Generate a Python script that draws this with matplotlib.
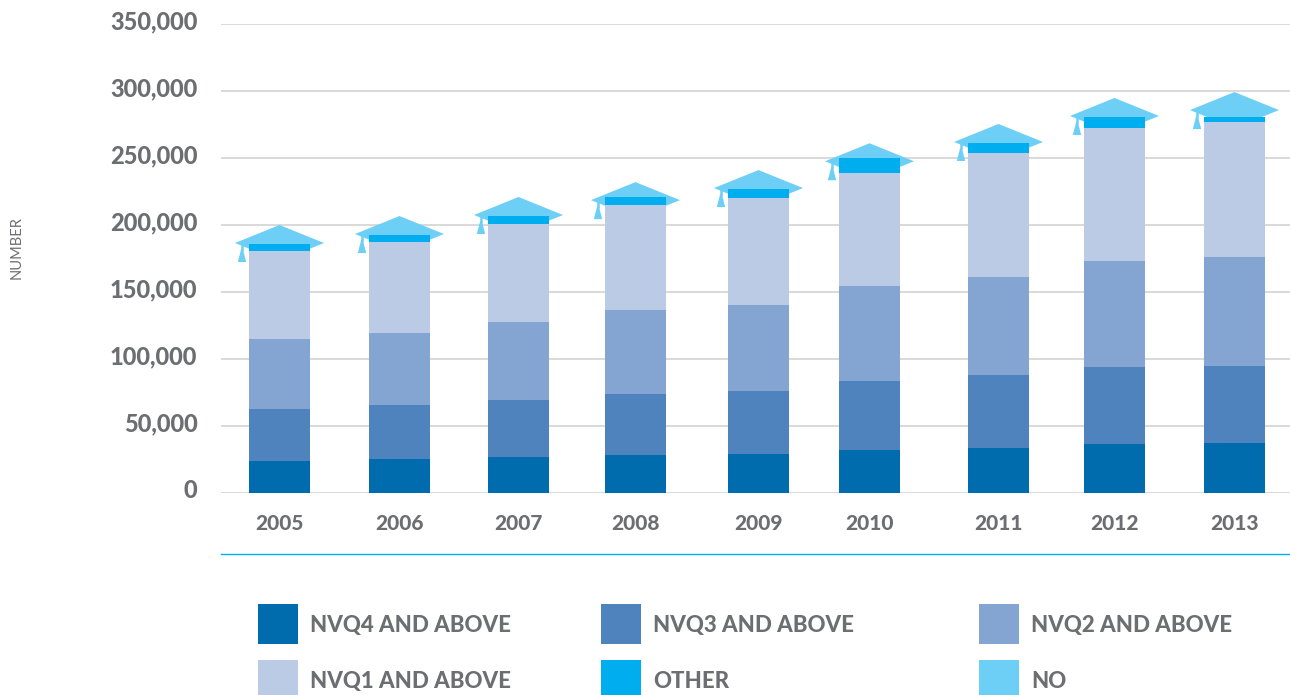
#!/usr/bin/python
import matplotlib
matplotlib.use('Agg')
import matplotlib.pyplot as plt
from matplotlib.patches import Rectangle
from matplotlib.transforms import ScaledTranslation

years = ['2005', '2006', '2007', '2008', '2009', '2010', '2011', '2012', '2013']

# cumulative qualification levels, number of people
nvq4 = [23900, 25400, 26900, 28400, 29100, 32100, 33600, 36600, 37300]
nvq3 = [62700, 65700, 69400, 73900, 76100, 83300, 87800, 94400, 95100]
nvq2 = [114900, 119400, 127600, 136600, 140300, 154500, 161000, 172800, 176000]
nvq1 = [180600, 187300, 200700, 214900, 220100, 239100, 253700, 272400, 276900]
other = [185800, 192500, 206700, 220900, 226900, 250300, 261200, 280600, 280600]
# "no" is drawn as the top of the mortarboard
no = [200000, 206700, 220900, 232000, 241000, 261000, 275400, 294800, 299200]

series_names = ['NVQ4 AND ABOVE', 'NVQ3 AND ABOVE', 'NVQ2 AND ABOVE',
                'NVQ1 AND ABOVE', 'OTHER', 'NO']
yticks = [0, 50000, 100000, 150000, 200000, 250000, 300000, 350000]

colors = ['#006bad', '#4f83be', '#84a4d1', '#bbcbe6', '#00aeef', '#6dcff6']
grey = '#6d6e71'
font = 'Lato'

W, H = 1290, 695
# bars are not evenly spaced in the original
bar_pos = [279.5, 399.5, 518.5, 635.5, 758.5, 869.5, 998.5, 1114.5, 1234.5]
bar_w = 61
PX = 1000 / 1.34  # data units per pixel on y


def figbox(x, y, w, h):
    # pixel box, y from the top
    return [x / W, 1 - (y + h) / H, w / W, h / H]


def draw_cap(ax, xc, apex):
    dy = 18 * PX
    ax.fill([xc - 44.5, xc, xc + 44.5, xc],
            [apex - dy, apex, apex - dy, apex - 2 * dy],
            color=colors[5], lw=0, zorder=2)
    # tassel
    tx = xc - 37.5
    ax.plot([tx, tx], [apex - dy, apex - 26 * PX], color=colors[5], lw=1.8,
            solid_capstyle='butt', zorder=2)
    ax.fill([tx - 4.2, tx + 4.2, tx + 0.8, tx - 0.8],
            [apex - 37 * PX, apex - 37 * PX, apex - 24 * PX, apex - 24 * PX],
            color=colors[5], lw=0, zorder=2)


fig = plt.figure(figsize=(W / 100, H / 100), dpi=100)
ax = fig.add_axes(figbox(221, 24, W - 221, 469))

for i in range(len(years)):
    draw_cap(ax, bar_pos[i], no[i])

levels = [nvq4, nvq3, nvq2, nvq1, other]
prev = [0] * len(years)
for lev, c in zip(levels, colors):
    ax.bar(bar_pos, [a - b for a, b in zip(lev, prev)], bar_w, bottom=prev,
           color=c, lw=0, zorder=3)
    prev = lev

ax.set_xlim(221, W)
ax.set_ylim(0, 350000)
for s in ax.spines.values():
    s.set_visible(False)
ax.grid(True, axis='y', color='#d9d9d9', lw=1.4, zorder=1)
ax.set_axisbelow(True)
ax.patch.set_alpha(0)

ax.set_yticks(yticks)
ax.set_yticklabels([format(v, ',') for v in yticks], family=font, weight='black',
                   size=17, color=grey)
ax.set_xticks(bar_pos)
ax.set_xticklabels(years, family=font, weight='black', size=15, color=grey)
ax.tick_params(axis='both', length=0)
ax.tick_params(axis='y', pad=17)
ax.tick_params(axis='x', pad=15)
up = ScaledTranslation(0, 4 / 100, fig.dpi_scale_trans)
for t in ax.get_yticklabels():
    t.set_transform(t.get_transform() + up)

fig.text(17 / W, 1 - 248 / H, 'NUMBER', rotation=90, ha='center', va='center',
         family=font, size=10.5, color=grey)

# rule under the axis
fig.add_artist(plt.Line2D([221 / W, 1], [1 - 554 / H] * 2, color='#00aeef', lw=1))

# legend
leg_x = [258, 601, 979]
leg_y = [604, 660]
for i, name in enumerate(series_names):
    x = leg_x[i % 3]
    y = leg_y[i // 3]
    fig.add_artist(Rectangle((x / W, 1 - (y + 40) / H), 40 / W, 40 / H,
                             transform=fig.transFigure, color=colors[i], lw=0))
    fig.text((x + 52) / W, 1 - (y + 21.5) / H, name, ha='left', va='center',
             family=font, weight='black', size=16, color=grey)

plt.savefig('out.png', dpi=100)
